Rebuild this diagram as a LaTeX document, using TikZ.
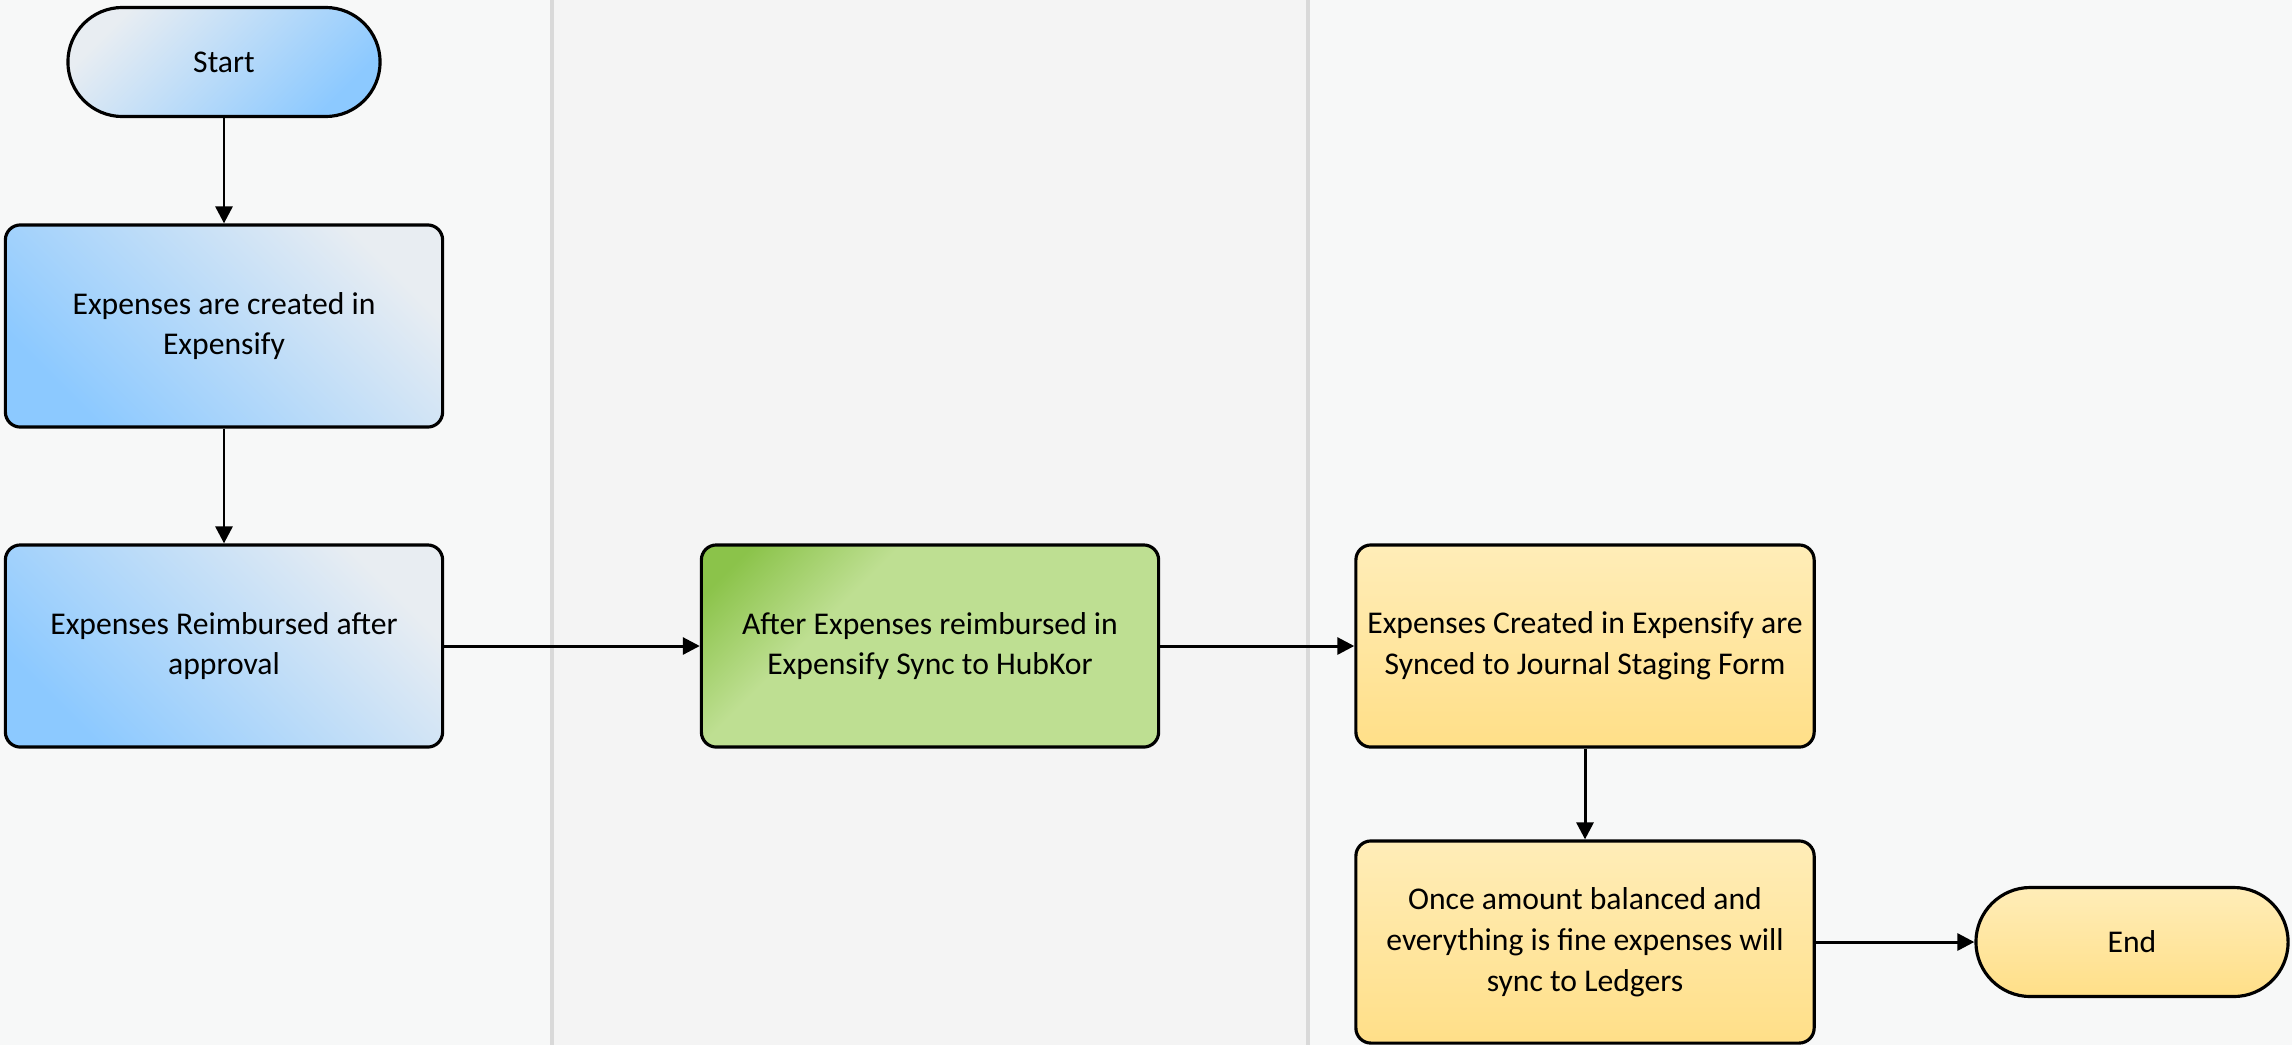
\documentclass[tikz,border=0pt]{standalone}
\usepackage{fontspec}
\setmainfont{Carlito}
\usetikzlibrary{arrows.meta}

\definecolor{lanea}{HTML}{F7F8F8}
\definecolor{laneb}{HTML}{F4F4F4}
\definecolor{laneline}{HTML}{D9D9D9}
\definecolor{bluelight}{HTML}{E8EDF2}
\definecolor{bluedark}{HTML}{8CC9FF}
\definecolor{greenlight}{HTML}{BEDF92}
\definecolor{greendark}{HTML}{8BC34A}
\definecolor{yellowlight}{HTML}{FFEDB8}
\definecolor{yellowdark}{HTML}{FFDF88}

\pgfdeclareverticalshading{greencorner}{100bp}{color(0bp)=(greenlight); color(64bp)=(greenlight); color(80bp)=(greendark); color(100bp)=(greendark)}

\begin{document}
\begin{tikzpicture} [x = 0.01cm, y = -0.01cm,
    terminal/.style = {draw, line width=0.9pt, rounded corners=0.545cm, minimum width=3.12cm, minimum height=1.09cm, inner sep=0pt, font=\fontsize{9}{11.6}\selectfont},
    process/.style = {draw, line width=0.9pt, rounded corners=0.15cm, minimum width=4.37cm, minimum height=2.02cm, inner sep=0pt, align=center, font=\fontsize{9}{11.6}\selectfont},
    bluestart/.style = {top color=bluelight, bottom color=bluedark, shading angle=45},
    bluebox/.style = {top color=bluelight, bottom color=bluedark, shading angle=-45},
    greenbox/.style = {shading=greencorner, shading angle=45, minimum width=4.57cm},
    yellowbox/.style = {top color=yellowlight, bottom color=yellowdark},
    flow/.style = {line width=0.85pt, -{Triangle[length=0.17cm, width=0.17cm]}}]
      \useasboundingbox (0,0) rectangle (2292,1045);

      % レーン
      \fill [lanea](0,0) rectangle (552,1045);
      \fill [laneb](552,0) rectangle (1308,1045);
      \fill [lanea](1308,0) rectangle (2292,1045);
      \draw [laneline, line width=1pt](552,0) -- (552,1045);
      \draw [laneline, line width=1pt](1308,0) -- (1308,1045);

      % ノード
      \node [terminal, bluestart] (start) at (224,62) {Start};
      \node [process, bluebox] (created) at (224,326) {Expenses are created in\\Expensify};
      \node [process, bluebox] (reimbursed) at (224,646) {Expenses Reimbursed after\\approval};
      \node [process, greenbox] (hubkor) at (930,646) {After Expenses reimbursed in\\Expensify Sync to HubKor};
      \node [process, yellowbox, minimum width=4.58cm] (staging) at (1585,646) {Expenses Created in Expensify are\\Synced to Journal Staging Form};
      \node [process, yellowbox, minimum width=4.58cm] (ledgers) at (1585,942) {Once amount balanced and\\everything is fine expenses will\\sync to Ledgers};
      \node [terminal, yellowbox] (end) at (2132,942) {End};

      % 矢印
      \draw [flow](start) -- (created);
      \draw [flow](created) -- (reimbursed);
      \draw [flow](reimbursed) -- (hubkor);
      \draw [flow](hubkor) -- (staging);
      \draw [flow](staging) -- (ledgers);
      \draw [flow](ledgers) -- (end);
    \end{tikzpicture}
\end{document}
